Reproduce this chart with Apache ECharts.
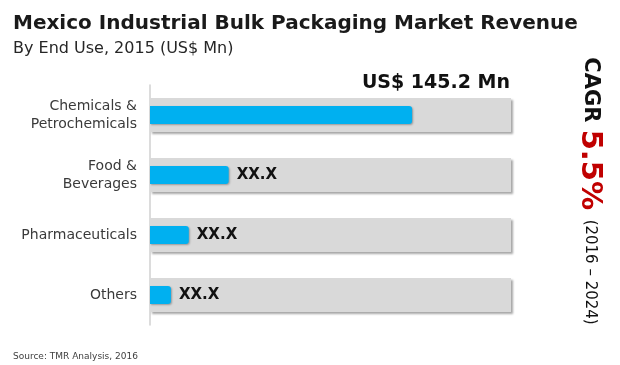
<!DOCTYPE html>
<html>
<head>
<meta charset="utf-8">
<script src="https://cdn.jsdelivr.net/npm/echarts@6/dist/echarts.min.js"></script>
<style>html,body{margin:0;padding:0;background:#fff}#c{width:620px;height:365px}</style>
</head>
<body>
<div id="c"></div>
<script>
const categories = ['Chemicals &\nPetrochemicals', 'Food &\nBeverages', 'Pharmaceuticals', 'Others'];
const values = [145.2, 43.6, 21.5, 11.6];
const valueLabels = ['', 'XX.X', 'XX.X', 'XX.X'];
const axisMax = 200;
const cagr = '5.5%';
const cagrPeriod = '(2016 – 2024)';

const chart = echarts.init(document.getElementById('c'));
const font = 'DejaVu Sans';
chart.setOption({
  animation: false,
  textStyle: { fontFamily: font },
  title: [
    { text: 'Mexico Industrial Bulk Packaging Market Revenue', left: 8, top: 9,
      textStyle: { fontSize: 20, fontWeight: 'bold', color: '#1a1a1a', fontFamily: font } },
    { text: 'By End Use, 2015 (US$ Mn)', left: 8, top: 36,
      textStyle: { fontSize: 16, fontWeight: 'normal', color: '#262626', fontFamily: font } },
    { text: 'Source: TMR Analysis, 2016', left: 8, top: 347,
      textStyle: { fontSize: 9, fontWeight: 'normal', color: '#404040', fontFamily: font } }
  ],
  grid: { left: 150, right: 109, top: 85, bottom: 40 },
  xAxis: { type: 'value', min: 0, max: axisMax, show: false },
  yAxis: [{
    type: 'category', data: categories, inverse: true,
    axisLine: { show: true, lineStyle: { color: '#d0d0d0', width: 1.5 } },
    axisTick: { show: false },
    axisLabel: { color: '#3a3a3a', fontSize: 14, lineHeight: 18, margin: 13, align: 'right' }
  }, {
    type: 'category', data: categories, inverse: true, show: false
  }],
  series: [
    {
      type: 'bar', data: values, barWidth: 34, silent: true, yAxisIndex: 0,
      itemStyle: { color: 'rgba(0,0,0,0)' },
      showBackground: true,
      backgroundStyle: { color: '#d9d9d9', shadowColor: 'rgba(0,0,0,0.35)', shadowBlur: 2, shadowOffsetX: 2, shadowOffsetY: 2 }
    },
    {
      type: 'bar', data: values, barWidth: 18, yAxisIndex: 1, z: 3,
      itemStyle: { color: '#00b0f0', borderRadius: [0, 3, 3, 0], shadowColor: 'rgba(0,0,0,0.3)', shadowBlur: 2, shadowOffsetX: 1, shadowOffsetY: 1 },
      label: {
        show: true, position: 'right', distance: 8, color: '#111', fontSize: 15, fontWeight: 'bold',
        formatter: p => valueLabels[p.dataIndex]
      }
    }
  ],
  graphic: [
    { type: 'text', right: 110, top: 74,
      style: { text: 'US$ ' + values[0] + ' Mn', font: 'bold 19px "DejaVu Sans"', fill: '#111' } },
    { type: 'text', x: 590, y: 191, rotation: -Math.PI / 2,
      style: {
        text: '{a|CAGR }{b|' + cagr + '}{c|  ' + cagrPeriod + '}',
        align: 'center', verticalAlign: 'middle',
        rich: {
          a: { font: 'bold 21px "DejaVu Sans"', fill: '#111' },
          b: { font: 'bold 29px "DejaVu Sans"', fill: '#c00000' },
          c: { font: '15px "DejaVu Sans"', fill: '#111' }
        }
      } }
  ]
});
</script>
</body>
</html>
